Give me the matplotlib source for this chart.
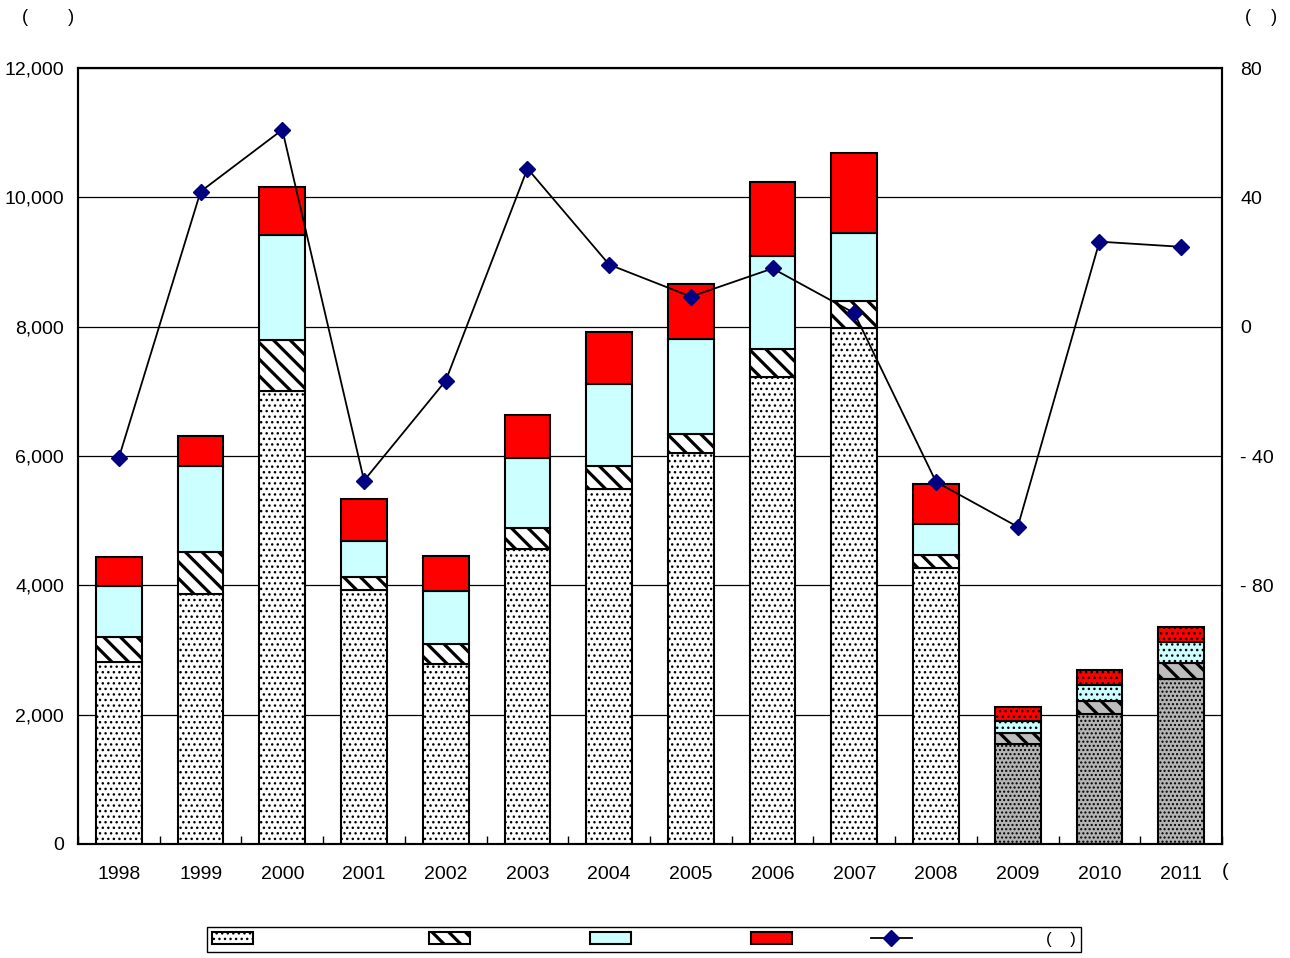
import matplotlib
matplotlib.use('Agg')
import matplotlib.pyplot as plt
import numpy as np

plt.rcParams['font.family'] = ['Liberation Sans', 'DejaVu Sans']

# values
years = ['1998', '1999', '2000', '2001', '2002', '2003', '2004',
         '2005', '2006', '2007', '2008', '2009', '2010', '2011']
base_vals = [2814, 3866, 7005, 3928, 2783, 4562, 5489, 6046, 7221, 7984, 4268, 1546, 2010, 2557]
stripe_vals = [387, 649, 789, 201, 310, 324, 356, 294, 433, 417, 201, 165, 206, 247]
cyan_vals = [789, 1330, 1623, 556, 819, 1083, 1268, 1469, 1438, 1052, 479, 196, 238, 320]
red_vals = [448, 464, 742, 650, 541, 665, 804, 850, 1145, 1237, 619, 216, 237, 237]
growth = [-40.5, 41.8, 60.9, -47.6, -16.7, 48.9, 19.2, 9.3, 18.0, 4.2, -48.0, -61.9, 26.3, 24.7]
estimate = [False] * 11 + [True] * 3

left_ticks = [0, 2000, 4000, 6000, 8000, 10000, 12000]
right_ticks = [-80, -40, 0, 40, 80]
right_labels = ['- 80', '- 40', '0', '40', '80']

x = np.arange(len(years))
width = 0.56
stripe_lw = 2.3

fig = plt.figure(figsize=(12.9, 9.58), dpi=100)
ax = fig.add_axes([0.0605, 0.119, 0.8868, 0.81])

# stacked bars
bottom = np.zeros(len(years))
b1 = ax.bar(x, base_vals, width, bottom=bottom, color='white', edgecolor='black',
            linewidth=1.5, hatch='...', zorder=2)
bottom += base_vals
with plt.rc_context({'hatch.linewidth': stripe_lw}):
    b2 = ax.bar(x, stripe_vals, width, bottom=bottom, color='white', edgecolor='black',
                linewidth=1.5, hatch='\\\\', zorder=2)
bottom += stripe_vals
b3 = ax.bar(x, cyan_vals, width, bottom=bottom, color='#ccffff', edgecolor='black',
            linewidth=1.5, zorder=2)
bottom += cyan_vals
b4 = ax.bar(x, red_vals, width, bottom=bottom, color='#ff0000', edgecolor='black',
            linewidth=1.5, zorder=2)

# last three years drawn with shaded / dotted fill
for i, est in enumerate(estimate):
    if est:
        b1.patches[i].set_facecolor('#b4b4b4')
        b1.patches[i].set_hatch('....')
        b2.patches[i].set_facecolor('#bdbdbd')
        b3.patches[i].set_hatch('...')
        b4.patches[i].set_hatch('...')

ax.set_xlim(-0.5, len(years) - 0.5)
ax.set_ylim(0, 12000)
ax.set_yticks(left_ticks)
ax.set_yticklabels(['{:,}'.format(v) for v in left_ticks])
ax.yaxis.grid(True, color='black', linewidth=0.9)
ax.set_axisbelow(True)
ax.set_xticks(x)
ax.set_xticklabels(years)
ax.set_xticks(np.arange(len(years) + 1) - 0.5, minor=True)
ax.tick_params(axis='x', which='major', length=0, pad=16, labelsize=14)
ax.tick_params(axis='x', which='minor', direction='in', length=6, width=1)
ax.tick_params(axis='y', length=0, pad=10, labelsize=14)
for s in ax.spines.values():
    s.set_linewidth(1.5)

# growth rate on the right axis
ax2 = ax.twinx()
line, = ax2.plot(x, growth, color='black', linewidth=1.3, marker='D', markersize=8,
                 markerfacecolor='#000080', markeredgecolor='#000080', zorder=3)
ax2.set_ylim(-160, 80)
ax2.set_yticks(right_ticks)
ax2.set_yticklabels(right_labels)
ax2.tick_params(axis='y', length=0, pad=13, labelsize=14)
for s in ax2.spines.values():
    s.set_linewidth(1.5)

# unit labels
fig.text(22 / 1290, 1 - 18 / 958, '(        )', fontsize=13, va='center', ha='left')
fig.text(1245 / 1290, 1 - 18 / 958, '(    )', fontsize=13, va='center', ha='left')
ax.text(1.0, -0.036, '(', transform=ax.transAxes, fontsize=14, va='center', ha='left')

labels = [' ' * 38, ' ' * 26, ' ' * 26, ' ' * 17, ' ' * 29 + '(    )']
leg = fig.legend([b1, b2, b3, b4, line], labels, ncol=5, loc='center left',
                 bbox_to_anchor=(207 / 1290, 1 - 939.5 / 958), fontsize=12,
                 frameon=True, fancybox=False, edgecolor='black', framealpha=1,
                 borderpad=0.3, borderaxespad=0, handlelength=2.46, handletextpad=0,
                 columnspacing=0)
leg.get_frame().set_linewidth(1.0)
if hasattr(leg.legend_handles[1], 'set_hatch_linewidth'):
    leg.legend_handles[1].set_hatch_linewidth(stripe_lw)

fig.savefig('out.png', dpi=100)
